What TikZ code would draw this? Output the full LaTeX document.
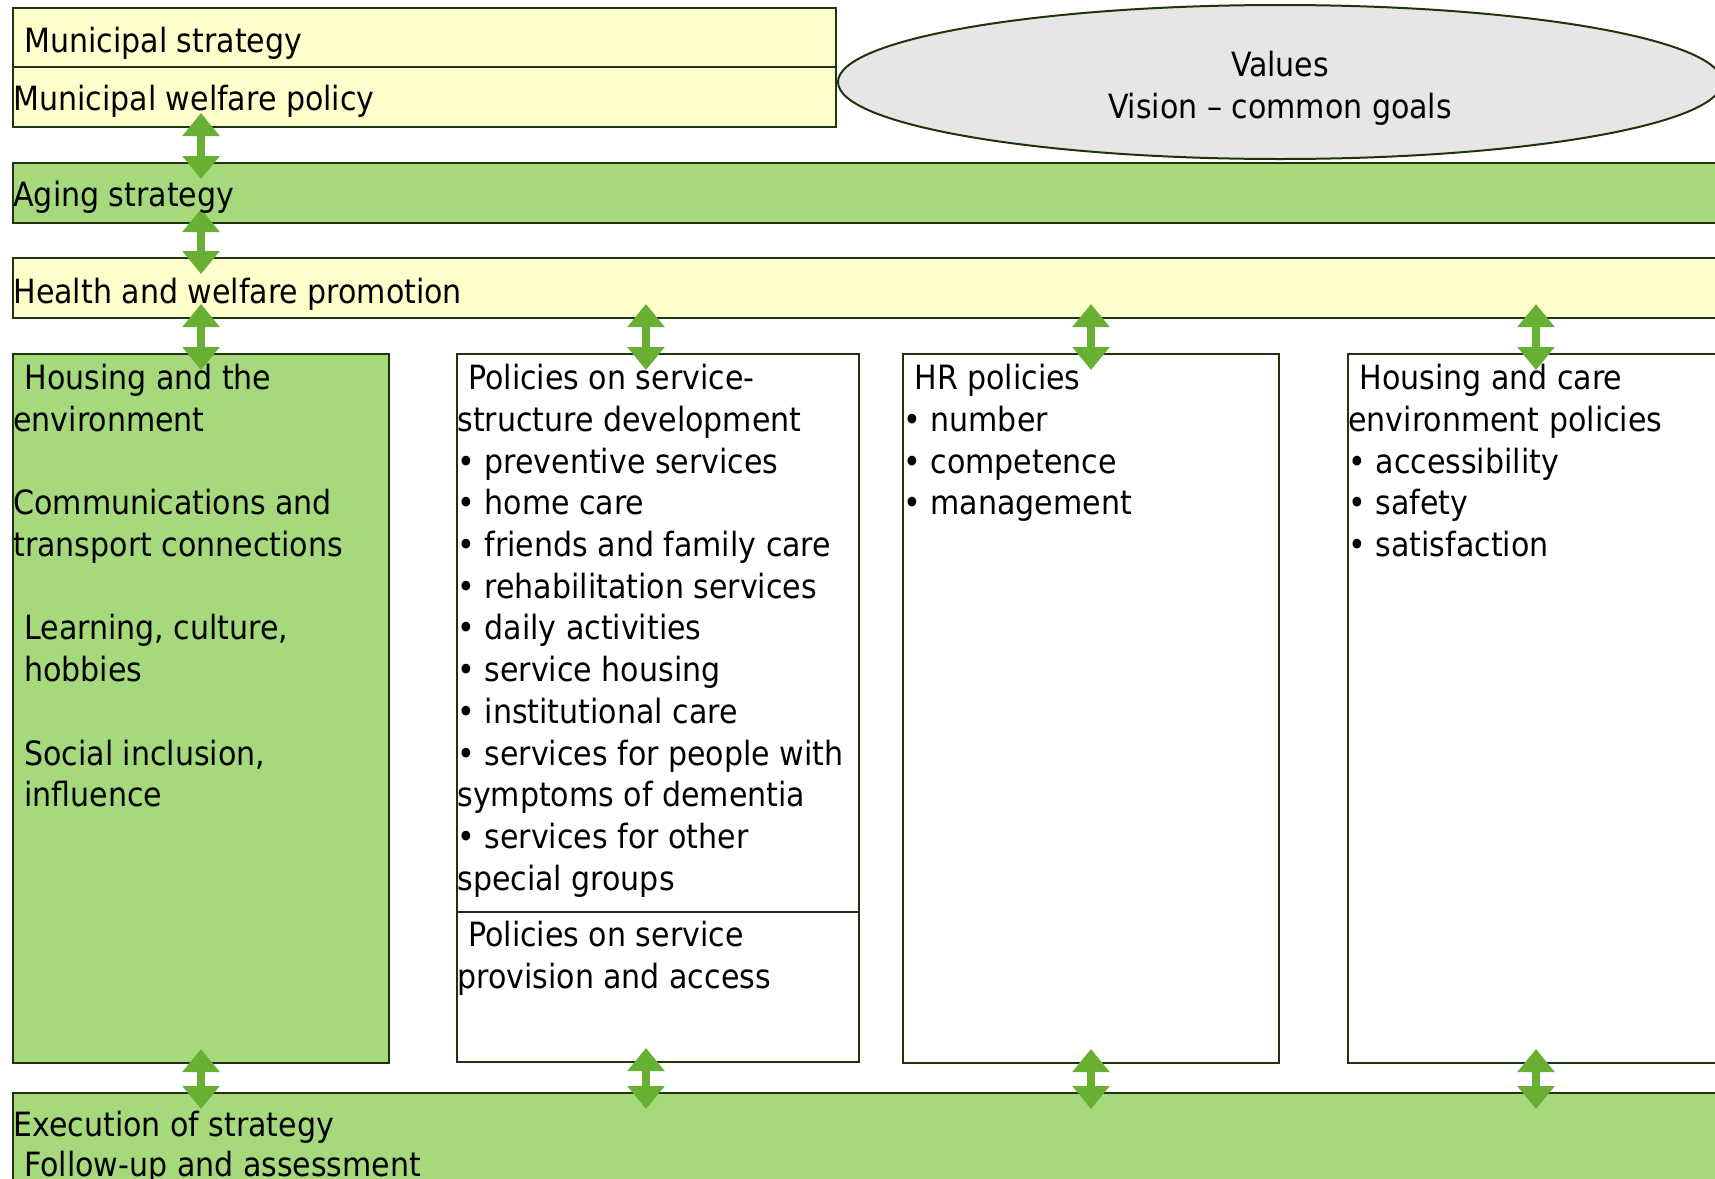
\documentclass[tikz,border=0pt]{standalone}
\usepackage{fontspec}
\setmainfont{DejaVu Sans Condensed}
\usepackage{tikz}
\usetikzlibrary{arrows.meta,positioning,shapes.geometric,calc}

\definecolor{paleyellow}{HTML}{FFFFCC}
\definecolor{bargreen}{HTML}{A5D97B}
\definecolor{arrowgreen}{HTML}{68B034}
\definecolor{valuegray}{HTML}{E6E6E6}
\definecolor{edgegreen}{HTML}{1F330F}

\newcommand{\wciecie}{\hspace*{5.5pt}}
\newcommand{\pkt}{\textbullet\ }

\begin{document}
\begin{tikzpicture}[x=0.5pt, y=-0.5pt]
\tikzset{
    %groty strzalek
    >={Triangle[width=18pt,length=11.5pt]},
    %pola
    pole/.style={
           rectangle, anchor=north west,
           inner sep=0pt, outer sep=0pt,
           line width=1pt, draw=edgegreen},
    zolty/.style={pole, fill=paleyellow},
    zielony/.style={pole, fill=bargreen},
    bialy/.style={pole, fill=white},
    owal/.style={
           ellipse, line width=1pt, draw=edgegreen, fill=valuegray,
           inner sep=0pt},
    %napisy
    napis/.style={
           anchor=north west, inner sep=0pt, align=left,
           font=\fontsize{16.7}{20.85}\selectfont},
    strzalka/.style={
           <->, line width=3.6pt, draw=arrowgreen,
           shorten <=-7pt, shorten >=-8pt}
}
\useasboundingbox (0,0) rectangle (1715,1179);
\clip (0,0) rectangle (1715,1179);
\fill[white] (0,0) rectangle (1715,1179);

%POLA
\node(mstrat)  [zolty, minimum width=411.5pt, minimum height=29.5pt] at (13,8) {};
\node(mwelf)   [zolty, minimum width=411.5pt, minimum height=30pt, below right=0pt and 0pt of mstrat.south west] {};
\node(values)  [owal, minimum width=442pt, minimum height=77pt] at (1280,82) {};
\node(aging)   [zielony, minimum width=870pt, minimum height=30pt, below right=18pt and 0pt of mwelf.south west] {};
\node(health)  [zolty, minimum width=870pt, minimum height=30pt, below right=17.5pt and 0pt of aging.south west] {};

\node(col1)    [zielony, minimum width=188pt, minimum height=354.5pt, below right=18pt and 0pt of health.south west] {};
\node(col2a)   [bialy, minimum width=201pt, minimum height=279pt, below right=0pt and 34pt of col1.north east] {};
\node(col2b)   [bialy, minimum width=201pt, minimum height=75pt, below right=0pt and 0pt of col2a.south west] {};
\node(col3)    [bialy, minimum width=188pt, minimum height=354.5pt, below right=0pt and 22pt of col2a.north east] {};
\node(col4)    [bialy, minimum width=188pt, minimum height=354.5pt, below right=0pt and 34.5pt of col3.north east] {};
\node(exec)    [zielony, minimum width=870pt, minimum height=60pt, below right=15pt and 0pt of col1.south west] {};

%Strzalki
\coordinate (k2) at ([xshift=-6pt]col2a.north);
\draw[strzalka] (mwelf.south -| col1.north) -- (aging.north -| col1.north);
\draw[strzalka] (aging.south -| col1.north) -- (health.north -| col1.north);
\draw[strzalka] (health.south -| col1.north) -- (col1.north);
\draw[strzalka] (health.south -| k2) -- (k2);
\draw[strzalka] (health.south -| col3.north) -- (col3.north);
\draw[strzalka] (health.south -| col4.north) -- (col4.north);
\draw[strzalka] (col1.south) -- (exec.north -| col1.south);
\draw[strzalka] (k2 |- col2b.south) -- (exec.north -| k2);
\draw[strzalka] (col3.south) -- (exec.north -| col3.south);
\draw[strzalka] (col4.south) -- (exec.north -| col4.south);

%NAPISY
\node(valuesT) [napis, anchor=center, align=center] at ([yshift=-3pt]values.center) {Values\\Vision – common goals};
\node(mstratT) [napis, below right=9.5pt and 5.5pt of mstrat.north west] {Municipal strategy};
\node(mwelfT)  [napis, below right=9pt and 0pt of mwelf.north west] {Municipal welfare policy};
\node(agingT)  [napis, below right=9pt and 0pt of aging.north west] {Aging strategy};
\node(healthT) [napis, below right=10pt and 0pt of health.north west] {Health and welfare promotion};
\node(col1T)   [napis, below right=5pt and 0pt of col1.north west]
    {\wciecie Housing and the\\environment\\[20.85pt]Communications and\\transport connections\\[20.85pt]%
     \wciecie Learning, culture,\\\wciecie hobbies\\[20.85pt]\wciecie Social inclusion,\\\wciecie influence};
\node(col2aT)  [napis, below right=5pt and 0pt of col2a.north west]
    {\wciecie Policies on service-\\structure development\\\pkt preventive services\\\pkt home care\\%
     \pkt friends and family care\\\pkt rehabilitation services\\\pkt daily activities\\\pkt service housing\\%
     \pkt institutional care\\\pkt services for people with\\symptoms of dementia\\\pkt services for other\\special groups};
\node(col2bT)  [napis, below right=4.5pt and 0pt of col2b.north west]
    {\wciecie Policies on service\\provision and access};
\node(col3T)   [napis, below right=5pt and 0pt of col3.north west]
    {\wciecie HR policies\\\pkt number\\\pkt competence\\\pkt management};
\node(col4T)   [napis, below right=5pt and 0pt of col4.north west]
    {\wciecie Housing and care\\environment policies\\\pkt accessibility\\\pkt safety\\\pkt satisfaction};
\node(execT)   [napis, below right=9pt and 0pt of exec.north west, font=\fontsize{16.7}{20}\selectfont]
    {Execution of strategy\\\wciecie Follow-up and assessment};
\end{tikzpicture}
\end{document}
